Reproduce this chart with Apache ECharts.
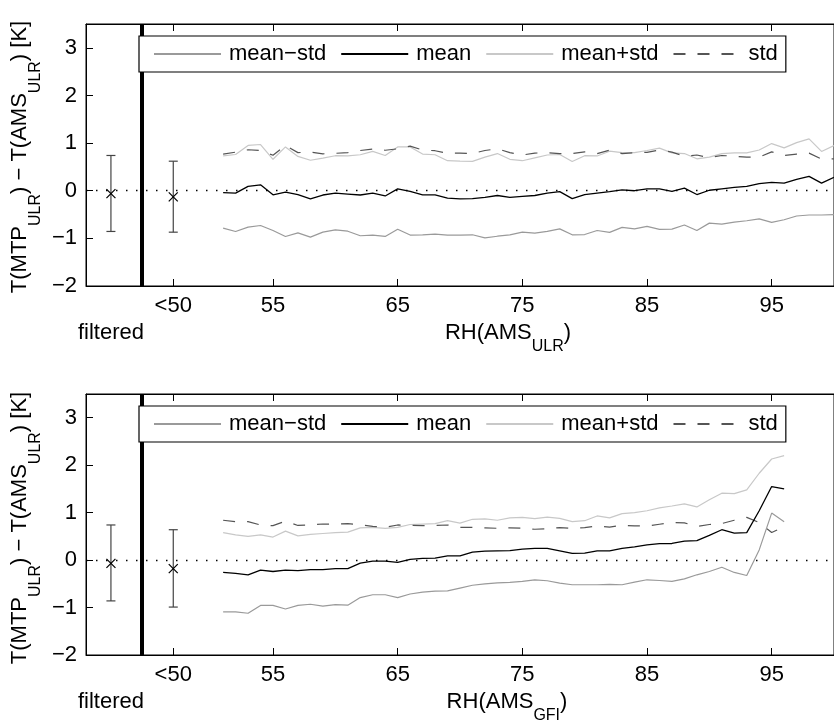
<!DOCTYPE html>
<html>
<head>
<meta charset="utf-8">
<script src="https://cdn.jsdelivr.net/npm/echarts@6/dist/echarts.min.js"></script>
<style>html,body{margin:0;padding:0;background:#fff;}#c{width:834px;height:722px;}</style>
</head>
<body>
<div id="c"></div>
<script>
// ---------- data ----------
const rhTop = [51,52,53,54,55,56,57,58,59,60,61,62,63,64,65,66,67,68,69,70,71,72,73,74,75,76,77,78,79,80,81,82,83,84,85,86,87,88,89,90,91,92,93,94,95,96,97,98,99,100];
const topMean = [-0.04,-0.05,0.09,0.125,-0.085,-0.03,-0.08,-0.17,-0.09,-0.05,-0.07,-0.09,-0.05,-0.11,0.04,-0.015,-0.085,-0.085,-0.155,-0.17,-0.165,-0.14,-0.1,-0.14,-0.12,-0.1,-0.05,-0.02,-0.165,-0.08,-0.05,-0.02,0.02,0,0.04,0.04,-0.015,0.055,-0.08,0.01,0.04,0.07,0.09,0.15,0.175,0.16,0.24,0.3,0.16,0.28];
const topUpper = [0.73,0.76,0.95,0.97,0.66,0.92,0.72,0.64,0.685,0.735,0.73,0.755,0.825,0.74,0.92,0.92,0.77,0.755,0.63,0.62,0.615,0.705,0.78,0.66,0.63,0.69,0.75,0.76,0.615,0.735,0.73,0.83,0.8,0.8,0.845,0.895,0.795,0.78,0.67,0.705,0.78,0.795,0.795,0.855,0.99,0.9,1.01,1.09,0.825,0.95];
const topLower = [-0.785,-0.855,-0.765,-0.73,-0.835,-0.96,-0.885,-0.975,-0.87,-0.82,-0.85,-0.945,-0.93,-0.96,-0.81,-0.93,-0.925,-0.91,-0.93,-0.93,-0.925,-0.99,-0.955,-0.925,-0.87,-0.89,-0.855,-0.8,-0.925,-0.92,-0.835,-0.875,-0.77,-0.8,-0.75,-0.81,-0.805,-0.72,-0.835,-0.68,-0.7,-0.66,-0.63,-0.59,-0.665,-0.61,-0.53,-0.51,-0.51,-0.5];
const topStd = [0.77,0.81,0.86,0.845,0.745,0.95,0.8,0.81,0.775,0.785,0.8,0.845,0.875,0.85,0.88,0.935,0.855,0.84,0.785,0.79,0.78,0.845,0.88,0.8,0.75,0.79,0.8,0.78,0.78,0.815,0.78,0.85,0.78,0.8,0.805,0.855,0.81,0.725,0.75,0.695,0.74,0.725,0.705,0.705,0.815,0.74,0.77,0.79,0.665,0.67];

const rhBot = [51,52,53,54,55,56,57,58,59,60,61,62,63,64,65,66,67,68,69,70,71,72,73,74,75,76,77,78,79,80,81,82,83,84,85,86,87,88,89,90,91,92,93,94,95,96];
const botMean = [-0.26,-0.28,-0.31,-0.21,-0.24,-0.21,-0.22,-0.2,-0.2,-0.18,-0.18,-0.065,-0.02,-0.02,-0.05,0.015,0.035,0.04,0.09,0.09,0.17,0.19,0.195,0.2,0.23,0.245,0.245,0.195,0.14,0.145,0.195,0.195,0.245,0.28,0.32,0.345,0.35,0.4,0.41,0.52,0.64,0.57,0.58,1.04,1.55,1.5];
const botUpper = [0.58,0.53,0.5,0.53,0.485,0.61,0.51,0.54,0.56,0.58,0.59,0.68,0.69,0.67,0.69,0.75,0.76,0.77,0.83,0.78,0.86,0.87,0.84,0.89,0.9,0.875,0.905,0.88,0.81,0.83,0.93,0.89,0.98,1.0,1.04,1.1,1.14,1.185,1.12,1.27,1.41,1.4,1.48,1.83,2.13,2.2];
const botLower = [-1.09,-1.09,-1.12,-0.955,-0.955,-1.03,-0.955,-0.93,-0.97,-0.94,-0.95,-0.79,-0.73,-0.73,-0.79,-0.715,-0.675,-0.655,-0.65,-0.59,-0.53,-0.5,-0.48,-0.47,-0.45,-0.415,-0.435,-0.485,-0.52,-0.52,-0.52,-0.51,-0.52,-0.465,-0.415,-0.43,-0.45,-0.395,-0.31,-0.24,-0.15,-0.26,-0.325,0.215,0.99,0.81];
const botStd = [0.84,0.81,0.81,0.74,0.725,0.82,0.73,0.74,0.76,0.76,0.77,0.745,0.71,0.69,0.74,0.735,0.725,0.73,0.74,0.69,0.69,0.68,0.67,0.68,0.67,0.65,0.66,0.685,0.67,0.685,0.72,0.695,0.735,0.72,0.72,0.755,0.79,0.785,0.71,0.75,0.77,0.84,0.9,0.79,0.58,0.7];

// error bars: "filtered" and "<50" bins
const errX = [42, 47];
const topErrMean = [-0.06, -0.13];
const topErrLow = [-0.855, -0.87];
const topErrHigh = [0.74, 0.62];
const botErrMean = [-0.07, -0.18];
const botErrLow = [-0.86, -0.99];
const botErrHigh = [0.74, 0.64];

const xTickValues = [47, 55, 65, 75, 85, 95];
const xLabelValues = [42, 47, 55, 65, 75, 85, 95];
const xLabelTexts = ['filtered', '<50', '55', '65', '75', '85', '95'];
const yTickValues = [-2, -1, 0, 1, 2, 3];
const seriesNames = ['mean\u2212std', 'mean', 'mean+std', 'std'];
const separatorX = 44.5;

// ---------- chart ----------
const FONT = 'Liberation Sans, Arial, Helvetica, sans-serif';
const chart = echarts.init(document.getElementById('c'), null, {renderer: 'canvas'});

const pair = (xs, ys) => xs.map((x, i) => [x, ys[i]]);
const errData = (m, lo, hi) => errX.map((x, i) => [x, m[i], lo[i], hi[i]]);

const grids = [
  {left: 86, top: 24, width: 756, height: 262},
  {left: 86, top: 394, width: 756, height: 261}
];

function xAxes(gi) {
  return [
    {
      type: 'value', gridIndex: gi, position: 'bottom', min: 40, max: 100,
      axisLine: {show: true, onZero: false, lineStyle: {color: '#000', width: 1}},
      axisTick: {show: true, inside: true, length: 7, customValues: xTickValues, lineStyle: {color: '#000'}},
      axisLabel: {
        show: true, customValues: xLabelValues, margin: 9, color: '#000', fontSize: 22, fontFamily: FONT,
        formatter: v => {
          const t = xLabelTexts[xLabelValues.indexOf(v)];
          return t === 'filtered' ? '{f|' + t + '}' : t;
        },
        rich: {f: {fontSize: 22, fontFamily: FONT, color: '#000', padding: [27, 0, 0, 0]}}
      },
      splitLine: {show: false}
    },
    {
      type: 'value', gridIndex: gi, position: 'top', min: 40, max: 100,
      axisLine: {show: true, onZero: false, lineStyle: {color: '#000', width: 1}},
      axisTick: {show: true, inside: true, length: 7, customValues: xTickValues, lineStyle: {color: '#000'}},
      axisLabel: {show: false},
      splitLine: {show: false}
    }
  ];
}

function yAxis(gi) {
  return {
    type: 'value', gridIndex: gi, min: -2, max: 3.5, interval: 1,
    axisLine: {show: true, onZero: false, lineStyle: {color: '#000', width: 1}},
    axisTick: {show: true, inside: true, length: 7, customValues: yTickValues, lineStyle: {color: '#000'}},
    axisLabel: {
      customValues: yTickValues, margin: 9, color: '#000', fontSize: 22, fontFamily: FONT,
      formatter: v => String(v).replace('-', '\u2212')
    },
    splitLine: {show: false}
  };
}

const lineStyles = [
  {color: '#9a9a9a', width: 1.2, type: 'solid'},
  {color: '#000000', width: 1.3, type: 'solid'},
  {color: '#c8c8c8', width: 1.2, type: 'solid'},
  {color: '#555555', width: 1.2, type: [12, 12]}
];

function chartSeries(xi, yi, xs, arrs, em, elo, ehi) {
  const s = arrs.map((arr, k) => ({
    name: seriesNames[k], type: 'line', xAxisIndex: xi, yAxisIndex: yi,
    data: pair(xs, arr), symbol: 'none', showSymbol: false,
    color: lineStyles[k].color,
    lineStyle: lineStyles[k], z: k === 1 ? 4 : 3, clip: true
  }));
  s[1].markLine = {
    silent: true, symbol: ['none', 'none'], label: {show: false}, animation: false,
    data: [
      {yAxis: 0, lineStyle: {color: '#000', width: 1.4, type: [1.5, 8.5]}},
      {xAxis: separatorX, lineStyle: {color: '#000', width: 4, type: 'solid'}}
    ]
  };
  s.push({
    type: 'custom', xAxisIndex: xi, yAxisIndex: yi, z: 5,
    data: errData(em, elo, ehi),
    encode: {x: 0, y: [1, 2, 3]},
    renderItem: (params, api) => {
      const x = api.value(0), m = api.value(1), lo = api.value(2), hi = api.value(3);
      const pL = api.coord([x, lo]), pH = api.coord([x, hi]), pM = api.coord([x, m]);
      const cw = 4.5, mk = 4.5;
      const st = {stroke: '#444', lineWidth: 1.2};
      const sm = {stroke: '#000', lineWidth: 1.2};
      return {type: 'group', children: [
        {type: 'line', shape: {x1: pL[0], y1: pL[1], x2: pH[0], y2: pH[1]}, style: st},
        {type: 'line', shape: {x1: pL[0] - cw, y1: pL[1], x2: pL[0] + cw, y2: pL[1]}, style: st},
        {type: 'line', shape: {x1: pH[0] - cw, y1: pH[1], x2: pH[0] + cw, y2: pH[1]}, style: st},
        {type: 'line', shape: {x1: pM[0] - mk, y1: pM[1] - mk, x2: pM[0] + mk, y2: pM[1] + mk}, style: sm},
        {type: 'line', shape: {x1: pM[0] - mk, y1: pM[1] + mk, x2: pM[0] + mk, y2: pM[1] - mk}, style: sm}
      ]};
    }
  });
  return s;
}

function legend(top) {
  return {
    data: seriesNames, left: 139, top: top, orient: 'horizontal',
    itemWidth: 67, itemHeight: 14, itemGap: 14,
    padding: [7, 8, 7, 14],
    borderColor: '#000', borderWidth: 1.2, backgroundColor: '#fff',
    itemStyle: {color: 'rgba(0,0,0,0)', borderWidth: 0, opacity: 0},
    textStyle: {fontSize: 22, color: '#000', fontFamily: FONT, padding: [0, 0, 0, 3]},
    selectedMode: false, z: 10
  };
}

const richX = {
  n: {fontSize: 22, fontFamily: FONT, color: '#000', verticalAlign: 'top'},
  s: {fontSize: 16, fontFamily: FONT, color: '#000', verticalAlign: 'top', padding: [17, 0, 0, 0]}
};
const richY = {
  n: {fontSize: 22, fontFamily: FONT, color: '#000', verticalAlign: 'top'},
  s: {fontSize: 16, fontFamily: FONT, color: '#000', verticalAlign: 'top', padding: [19, 0, 0, 0]}
};
const yName = '{n|T(MTP}{s|ULR}{n|) \u2212 T(AMS}{s|ULR}{n|) [K]}';

const option = {
  animation: false,
  backgroundColor: '#fff',
  textStyle: {fontFamily: FONT},
  grid: grids.map(g => Object.assign({show: true, borderColor: '#000', borderWidth: 1, backgroundColor: 'transparent'}, g)),
  xAxis: [...xAxes(0), ...xAxes(1)],
  yAxis: [yAxis(0), yAxis(1)],
  legend: [legend(36), legend(406)],
  series: [
    ...chartSeries(0, 0, rhTop, [topLower, topMean, topUpper, topStd], topErrMean, topErrLow, topErrHigh),
    ...chartSeries(2, 1, rhBot, [botLower, botMean, botUpper, botStd], botErrMean, botErrLow, botErrHigh)
  ],
  graphic: [
    {type: 'text', x: 508, y: 322, silent: true, style: {text: '{n|RH(AMS}{s|ULR}{n|)}', rich: richX, align: 'center', verticalAlign: 'top'}},
    {type: 'text', x: 507, y: 691, silent: true, style: {text: '{n|RH(AMS}{s|GFI}{n|)}', rich: richX, align: 'center', verticalAlign: 'top'}},
    {type: 'text', x: 26, y: 157, rotation: Math.PI / 2, silent: true, style: {text: yName, rich: richY, align: 'center', verticalAlign: 'middle'}},
    {type: 'text', x: 26, y: 528, rotation: Math.PI / 2, silent: true, style: {text: yName, rich: richY, align: 'center', verticalAlign: 'middle'}}
  ]
};
chart.setOption(option);
</script>
</body>
</html>
